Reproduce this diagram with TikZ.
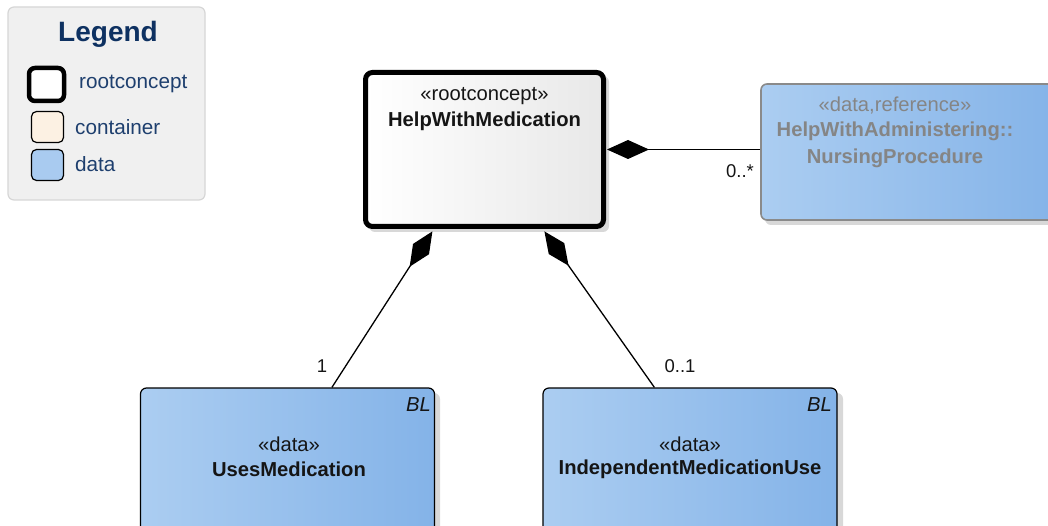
\documentclass[tikz,border=0pt]{standalone}
\usepackage{fontspec}
\setmainfont{Liberation Sans}
\usetikzlibrary{arrows.meta,calc}
\definecolor{legbg}{HTML}{F0F0F0}
\definecolor{legborder}{HTML}{D6D6D6}
\definecolor{legtitle}{HTML}{0E3161}
\definecolor{legtext}{HTML}{1E3F6E}
\definecolor{contfill}{HTML}{FCF1E3}
\definecolor{datafill}{HTML}{A9CBF0}
\definecolor{dataleft}{HTML}{ABCDF1}
\definecolor{dataright}{HTML}{84B3E8}
\definecolor{shadowc}{HTML}{D8D8D8}
\definecolor{refborder}{HTML}{8A8A8A}
\definecolor{reftext}{HTML}{858585}
\definecolor{nodetext}{HTML}{151515}
\newcommand\fnode{\fontsize{20.2}{24}\selectfont}
\newcommand\flegend{\fontsize{20.7}{24}\selectfont}
\tikzset{
  legendbox/.style={draw=legborder, line width=1.2pt, fill=legbg, rounded corners=6pt, minimum width=197pt, minimum height=193pt, inner sep=0pt},
  swatch/.style={draw=black, line width=1.2pt, rounded corners=5pt, minimum width=32pt, minimum height=31pt, inner sep=0pt},
  rootbox/.style={draw=black, line width=5pt, rounded corners=7pt, left color=white, right color=black!9, minimum width=238pt, minimum height=154pt, inner sep=0pt},
  databox/.style={draw=black, line width=1.2pt, rounded corners=6pt, left color=dataleft, right color=dataright, minimum width=294pt, minimum height=150pt, inner sep=0pt},
  refbox/.style={draw=refborder, line width=1.6pt, rounded corners=6pt, left color=dataleft, right color=dataright, minimum width=300pt, minimum height=136pt, inner sep=0pt},
  shadowbox/.style={fill=shadowc, rounded corners=6pt, inner sep=0pt},
  ntext/.style={text=nodetext, font=\fnode, inner sep=0pt, align=center},
  ltext/.style={text=legtext, font=\flegend, inner sep=0pt, anchor=west},
  comp/.style={draw=black, line width=1.3pt, -{Diamond[length=42pt,width=19pt]}},
  mult/.style={text=nodetext, font=\fontsize{18.5}{22}\selectfont, inner sep=0pt}
}
\begin{document}
\begin{tikzpicture}[x=1pt,y=-1pt]
\useasboundingbox (0,0) rectangle (1048,526);
% legend
\node[legendbox] (legend) at (106.5,103.5) {};
\node[text=legtitle, font=\fontsize{28}{30}\selectfont\bfseries, inner sep=0pt] (legtitle) at (108,34) {Legend};
\node[swatch, line width=4.5pt, fill=white, rounded corners=6pt, minimum width=35pt, minimum height=33pt] (swroot) at (46.5,84.5) {};
\node[ltext] (ltroot) at (79,84) {rootconcept};
\node[swatch, fill=contfill] (swcont) at (47.5,127) {};
\node[ltext] (ltcont) at (75,127) {container};
\node[swatch, fill=datafill] (swdata) at (47.5,165) {};
\node[ltext] (ltdata) at (75,164) {data};
% shadows
\node[shadowbox, minimum width=240pt, minimum height=156pt] (rootsh) at (489,154) {};
\node[shadowbox, minimum width=300pt, minimum height=136pt] (refsh) at (915,157) {};
\node[shadowbox, minimum width=294pt, minimum height=150pt] (usessh) at (293,468) {};
\node[shadowbox, minimum width=294pt, minimum height=150pt] (indsh) at (696,468) {};
% boxes
\node[refbox] (ref) at (911,152) {};
\node[databox] (uses) at (287.5,463) {};
\node[databox] (ind) at (690,463) {};
% connectors
\draw[comp] (ref.west |- 0,149.5) -- (607,149.5);
\draw[comp] ($(uses.north west)+(192,0)$) -- ($(uses.north west)+(292.5,-156)$);
\draw[comp] ($(ind.north west)+(112,0)$) -- ($(ind.north west)+(2,-156)$);
% root on top
\node[rootbox] (root) at (484.5,149.5) {};
% texts
\node[ntext] (roots) at (root.north |- 0,96) {«rootconcept»};
\node[ntext, font=\fnode\bfseries] (rootn) at (root.north |- 0,121) {HelpWithMedication};
\node[ntext, text=reftext] (refs) at (895,105) {«data,reference»};
\node[ntext, text=reftext, font=\fnode\bfseries] (refn1) at (895,131) {HelpWithAdministering::};
\node[ntext, text=reftext, font=\fnode\bfseries] (refn2) at (895,158) {NursingProcedure};
\node[ntext] (usess) at (289,444) {«data»};
\node[ntext, font=\fnode\bfseries] (usesn) at (289,469) {UsesMedication};
\node[ntext, font=\fnode\itshape, anchor=east] (usesbl) at (431,405) {BL};
\node[ntext] (inds) at (690,444) {«data»};
\node[ntext, font=\fnode\bfseries] (indn) at (690,469) {IndependentMedicationUse};
\node[ntext, font=\fnode\itshape, anchor=east] (indbl) at (832,405) {BL};
% multiplicities
\node[mult] (m1) at (322,366) {1};
\node[mult] (m2) at (680,366) {0..1};
\node[mult] (m3) at (740,171) {0..*};
\end{tikzpicture}
\end{document}
